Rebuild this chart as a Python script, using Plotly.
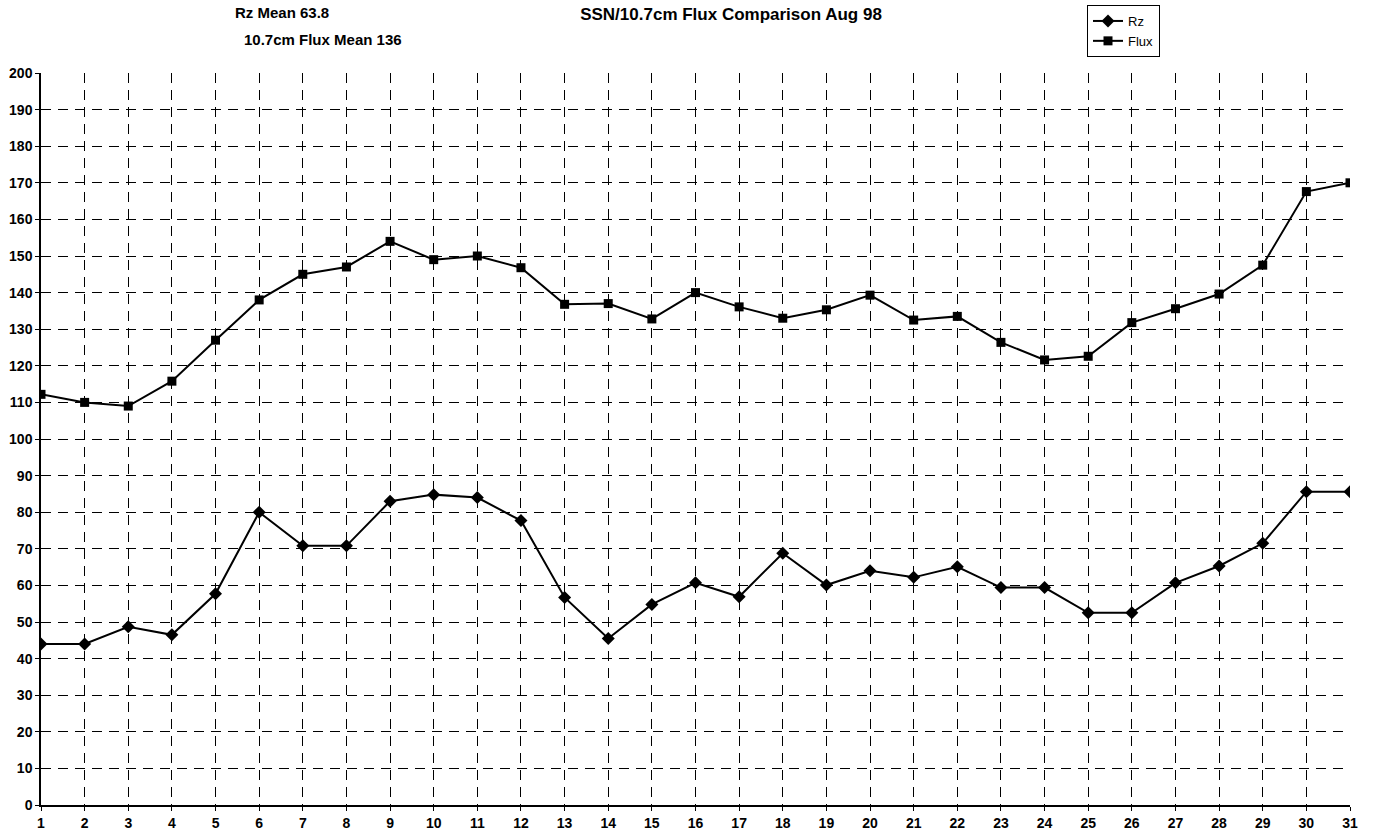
import plotly.graph_objects as go

days = list(range(1, 32))
rz = [44, 44, 48.7, 46.5, 57.7, 80, 70.8, 70.8, 83, 84.8, 84, 77.7, 56.7, 45.5, 54.8, 60.7,
      56.9, 68.8, 60.1, 64, 62.2, 65.1, 59.4, 59.4, 52.5, 52.5, 60.7, 65.3, 71.5, 85.6, 85.6]
flux = [112.2, 110, 109, 115.8, 127, 138, 145, 147, 154, 149, 150, 146.8, 136.8, 137, 132.8, 140,
        136.1, 133, 135.3, 139.3, 132.5, 133.5, 126.4, 121.6, 122.6, 131.8, 135.6, 139.6, 147.5, 167.6, 170]
y_ticks = list(range(0, 201, 10))
title_text = "SSN/10.7cm Flux Comparison Aug 98"
rz_mean_text = "Rz Mean 63.8"
flux_mean_text = "10.7cm Flux Mean 136"

FONT = "Liberation Sans, Arial, sans-serif"
W, H = 1374, 837
L, R, T, B = 41, 24, 73, 32
PW, PH = W - L - R, H - T - B


def px(sx):
    return (sx - L) / PW


def py(sy):
    return 1 + (T - sy) / PH


fig = go.Figure()
fig.add_trace(go.Scatter(x=days, y=rz, name="Rz", mode="lines+markers",
                         line=dict(color="black", width=2),
                         marker=dict(symbol="diamond", size=10, color="black")))
fig.add_trace(go.Scatter(x=days, y=flux, name="Flux", mode="lines+markers",
                         line=dict(color="black", width=2),
                         marker=dict(symbol="square", size=9, color="black")))

fig.update_layout(
    width=W, height=H,
    margin=dict(l=L, r=R, t=T, b=B, autoexpand=False),
    paper_bgcolor="white", plot_bgcolor="white",
    font=dict(family=FONT, color="black", size=12),
    title=dict(text=title_text, x=731 / W, xanchor="center", y=1 - 14 / H,
               yanchor="middle",
               font=dict(family=FONT, size=17, weight="bold", color="black")),
    showlegend=True,
    legend=dict(x=px(1087), y=py(5), xanchor="left", yanchor="top",
                bordercolor="black", borderwidth=1, bgcolor="white",
                font=dict(family=FONT, size=13, color="black"),
                entrywidth=50, tracegroupgap=0),
    annotations=[
        dict(text=rz_mean_text, xref="paper", yref="paper", x=px(233), y=py(12),
             xanchor="left", yanchor="middle", showarrow=False,
             font=dict(family=FONT, size=15, weight="bold", color="black")),
        dict(text=flux_mean_text, xref="paper", yref="paper", x=px(242), y=py(40),
             xanchor="left", yanchor="middle", showarrow=False,
             font=dict(family=FONT, size=15, weight="bold", color="black")),
    ],
)

fig.update_xaxes(range=[1, 31], tickmode="array", tickvals=days, ticktext=[str(d) for d in days],
                 showgrid=True, gridcolor="black", gridwidth=1, griddash="10px,7px",
                 showline=True, linecolor="black", linewidth=2,
                 ticks="outside", ticklen=4, tickcolor="black",
                 tickfont=dict(family=FONT, size=14, weight="bold", color="black"),
                 zeroline=False, fixedrange=True, automargin=False)
fig.update_yaxes(range=[0, 200], tickmode="array", tickvals=y_ticks,
                 showgrid=True, gridcolor="black", gridwidth=1, griddash="10px,7px",
                 showline=True, linecolor="black", linewidth=1.5,
                 ticks="outside", ticklen=4, tickcolor="black",
                 tickfont=dict(family=FONT, size=14, weight="bold", color="black"),
                 zeroline=False, fixedrange=True, automargin=False)

fig.write_html("out.html", config={"displayModeBar": False},
               post_script="document.body.style.margin='0';document.body.style.overflow='hidden';")
